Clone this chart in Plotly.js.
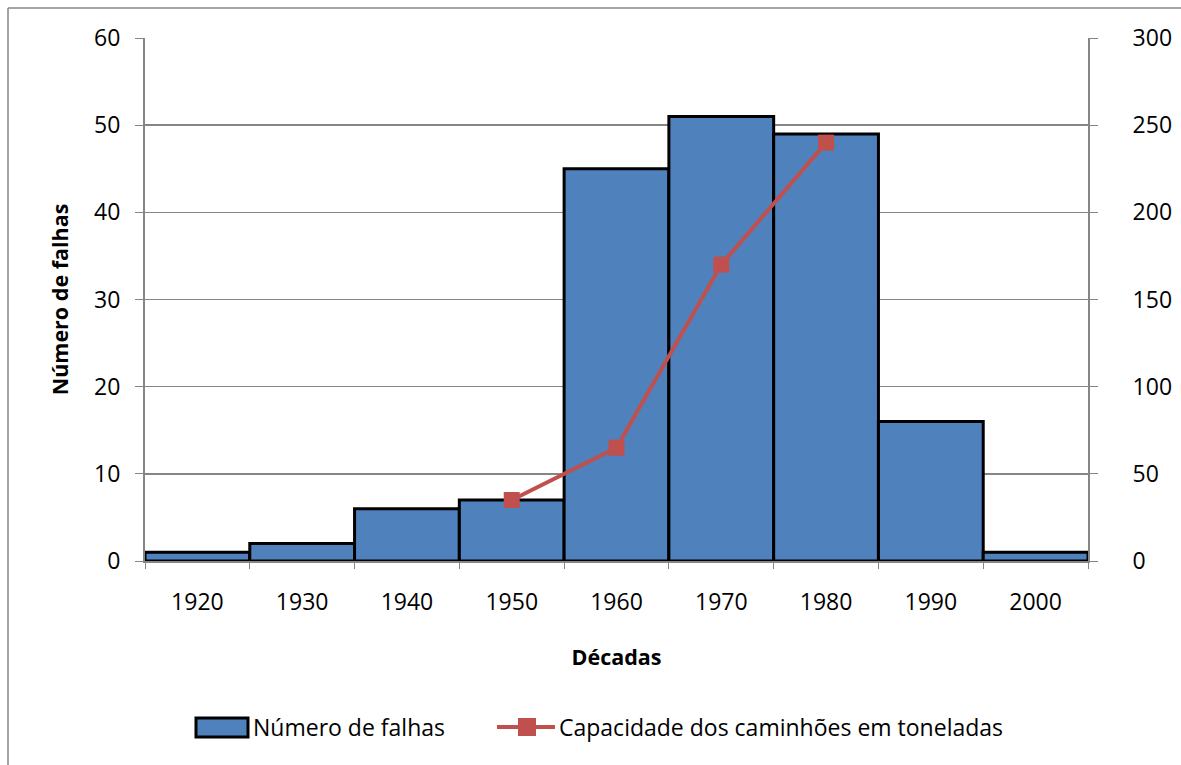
<!DOCTYPE html>
<html>
<head>
<meta charset="utf-8">
<script src="https://cdn.plot.ly/plotly-3.0.1.min.js"></script>
<style>html,body{margin:0;padding:0;background:#fff;}#chart{width:1181px;height:765px;}</style>
</head>
<body>
<div id="chart"></div>
<script>
const decades = ['1920','1930','1940','1950','1960','1970','1980','1990','2000'];
const falhas = [1, 2, 6, 7, 45, 51, 49, 16, 1];
const capDecades = ['1950','1960','1970','1980'];
const capacidade = [35, 65, 170, 240];
const leftTicks = [0, 10, 20, 30, 40, 50, 60];
const rightTicks = [0, 50, 100, 150, 200, 250, 300];
const barName = 'Número de falhas';
const lineName = 'Capacidade dos caminhões em toneladas';

const FONT = '"Open Sans", Lato, sans-serif';
const BLUE = '#4F81BD', RED = '#C0504D', GRAY = '#868686';

// plot area in pixels: x 145..1088, y 38..561
const PL = 145, PW = 943, PB = 561, PH = 523;
const px = x => (x - PL) / PW;
const py = y => (PB - y) / PH;

const traces = [
  {
    type: 'bar', x: decades, y: falhas, name: barName,
    width: 1,
    marker: {color: BLUE, line: {color: '#000000', width: 3}}
  },
  {
    type: 'scatter', mode: 'lines+markers', x: capDecades, y: capacidade,
    yaxis: 'y2', name: lineName,
    line: {color: RED, width: 4},
    marker: {color: RED, symbol: 'square', size: 16}
  }
];

const legendY = 727;
const TICK = 23;
const layout = {
  width: 1181, height: 765,
  margin: {l: PL, r: 1181 - PL - PW, t: 38, b: 765 - PB},
  paper_bgcolor: '#ffffff', plot_bgcolor: '#ffffff',
  font: {family: FONT, size: TICK, color: '#000'},
  bargap: 0,
  showlegend: false,
  xaxis: {
    type: 'category', categoryorder: 'array', categoryarray: decades,
    range: [-0.5, 8.5], tickson: 'boundaries',
    ticks: 'outside', ticklen: 6, tickcolor: GRAY,
    showline: true, linecolor: GRAY, linewidth: 2,
    showgrid: false, zeroline: false,
    ticklabelstandoff: 19,
    tickfont: {family: FONT, size: TICK},
    title: {text: '<b>Décadas</b>', font: {family: FONT, size: 21.5}, standoff: 34}
  },
  yaxis: {
    range: [0, 60], tickvals: leftTicks, ticktext: leftTicks.map(String),
    ticks: 'outside', ticklen: 8, tickcolor: GRAY,
    showline: true, linecolor: GRAY, linewidth: 2,
    showgrid: true, gridcolor: GRAY, gridwidth: 1.5,
    zeroline: false, ticklabelstandoff: 10,
    tickfont: {family: FONT, size: TICK},
    title: {text: '<b>Número de falhas</b>', font: {family: FONT, size: 21.5}, standoff: 20}
  },
  yaxis2: {
    overlaying: 'y', side: 'right',
    range: [0, 300], tickvals: rightTicks, ticktext: rightTicks.map(String),
    ticks: 'outside', ticklen: 8, tickcolor: GRAY,
    showline: true, linecolor: GRAY, linewidth: 2,
    showgrid: false, zeroline: false, ticklabelstandoff: 30,
    tickfont: {family: FONT, size: TICK}
  },
  shapes: [
    // outer chart border (top and left edges visible)
    {type: 'line', xref: 'paper', yref: 'paper', layer: 'below',
     x0: px(8), x1: px(1181), y0: py(8), y1: py(8), line: {color: GRAY, width: 1.5}},
    {type: 'line', xref: 'paper', yref: 'paper', layer: 'below',
     x0: px(8), x1: px(8), y0: py(8), y1: py(765), line: {color: GRAY, width: 1.5}},
    // legend symbols
    {type: 'rect', xref: 'paper', yref: 'paper',
     x0: px(196), x1: px(248), y0: py(737), y1: py(718),
     fillcolor: BLUE, line: {color: '#000', width: 3}},
    {type: 'line', xref: 'paper', yref: 'paper',
     x0: px(497), x1: px(555), y0: py(legendY), y1: py(legendY),
     line: {color: RED, width: 4}},
    {type: 'rect', xref: 'paper', yref: 'paper',
     x0: px(518), x1: px(536), y0: py(legendY + 9), y1: py(legendY - 9),
     fillcolor: RED, line: {color: RED, width: 0}}
  ],
  annotations: [
    {xref: 'paper', yref: 'paper', x: px(251), y: py(legendY), xanchor: 'left', yanchor: 'middle',
     text: barName, showarrow: false, font: {family: FONT, size: 23}},
    {xref: 'paper', yref: 'paper', x: px(557), y: py(legendY), xanchor: 'left', yanchor: 'middle',
     text: lineName, showarrow: false, font: {family: FONT, size: 23}}
  ]
};

Plotly.newPlot('chart', traces, layout, {displayModeBar: false, staticPlot: true});
</script>
</body>
</html>
